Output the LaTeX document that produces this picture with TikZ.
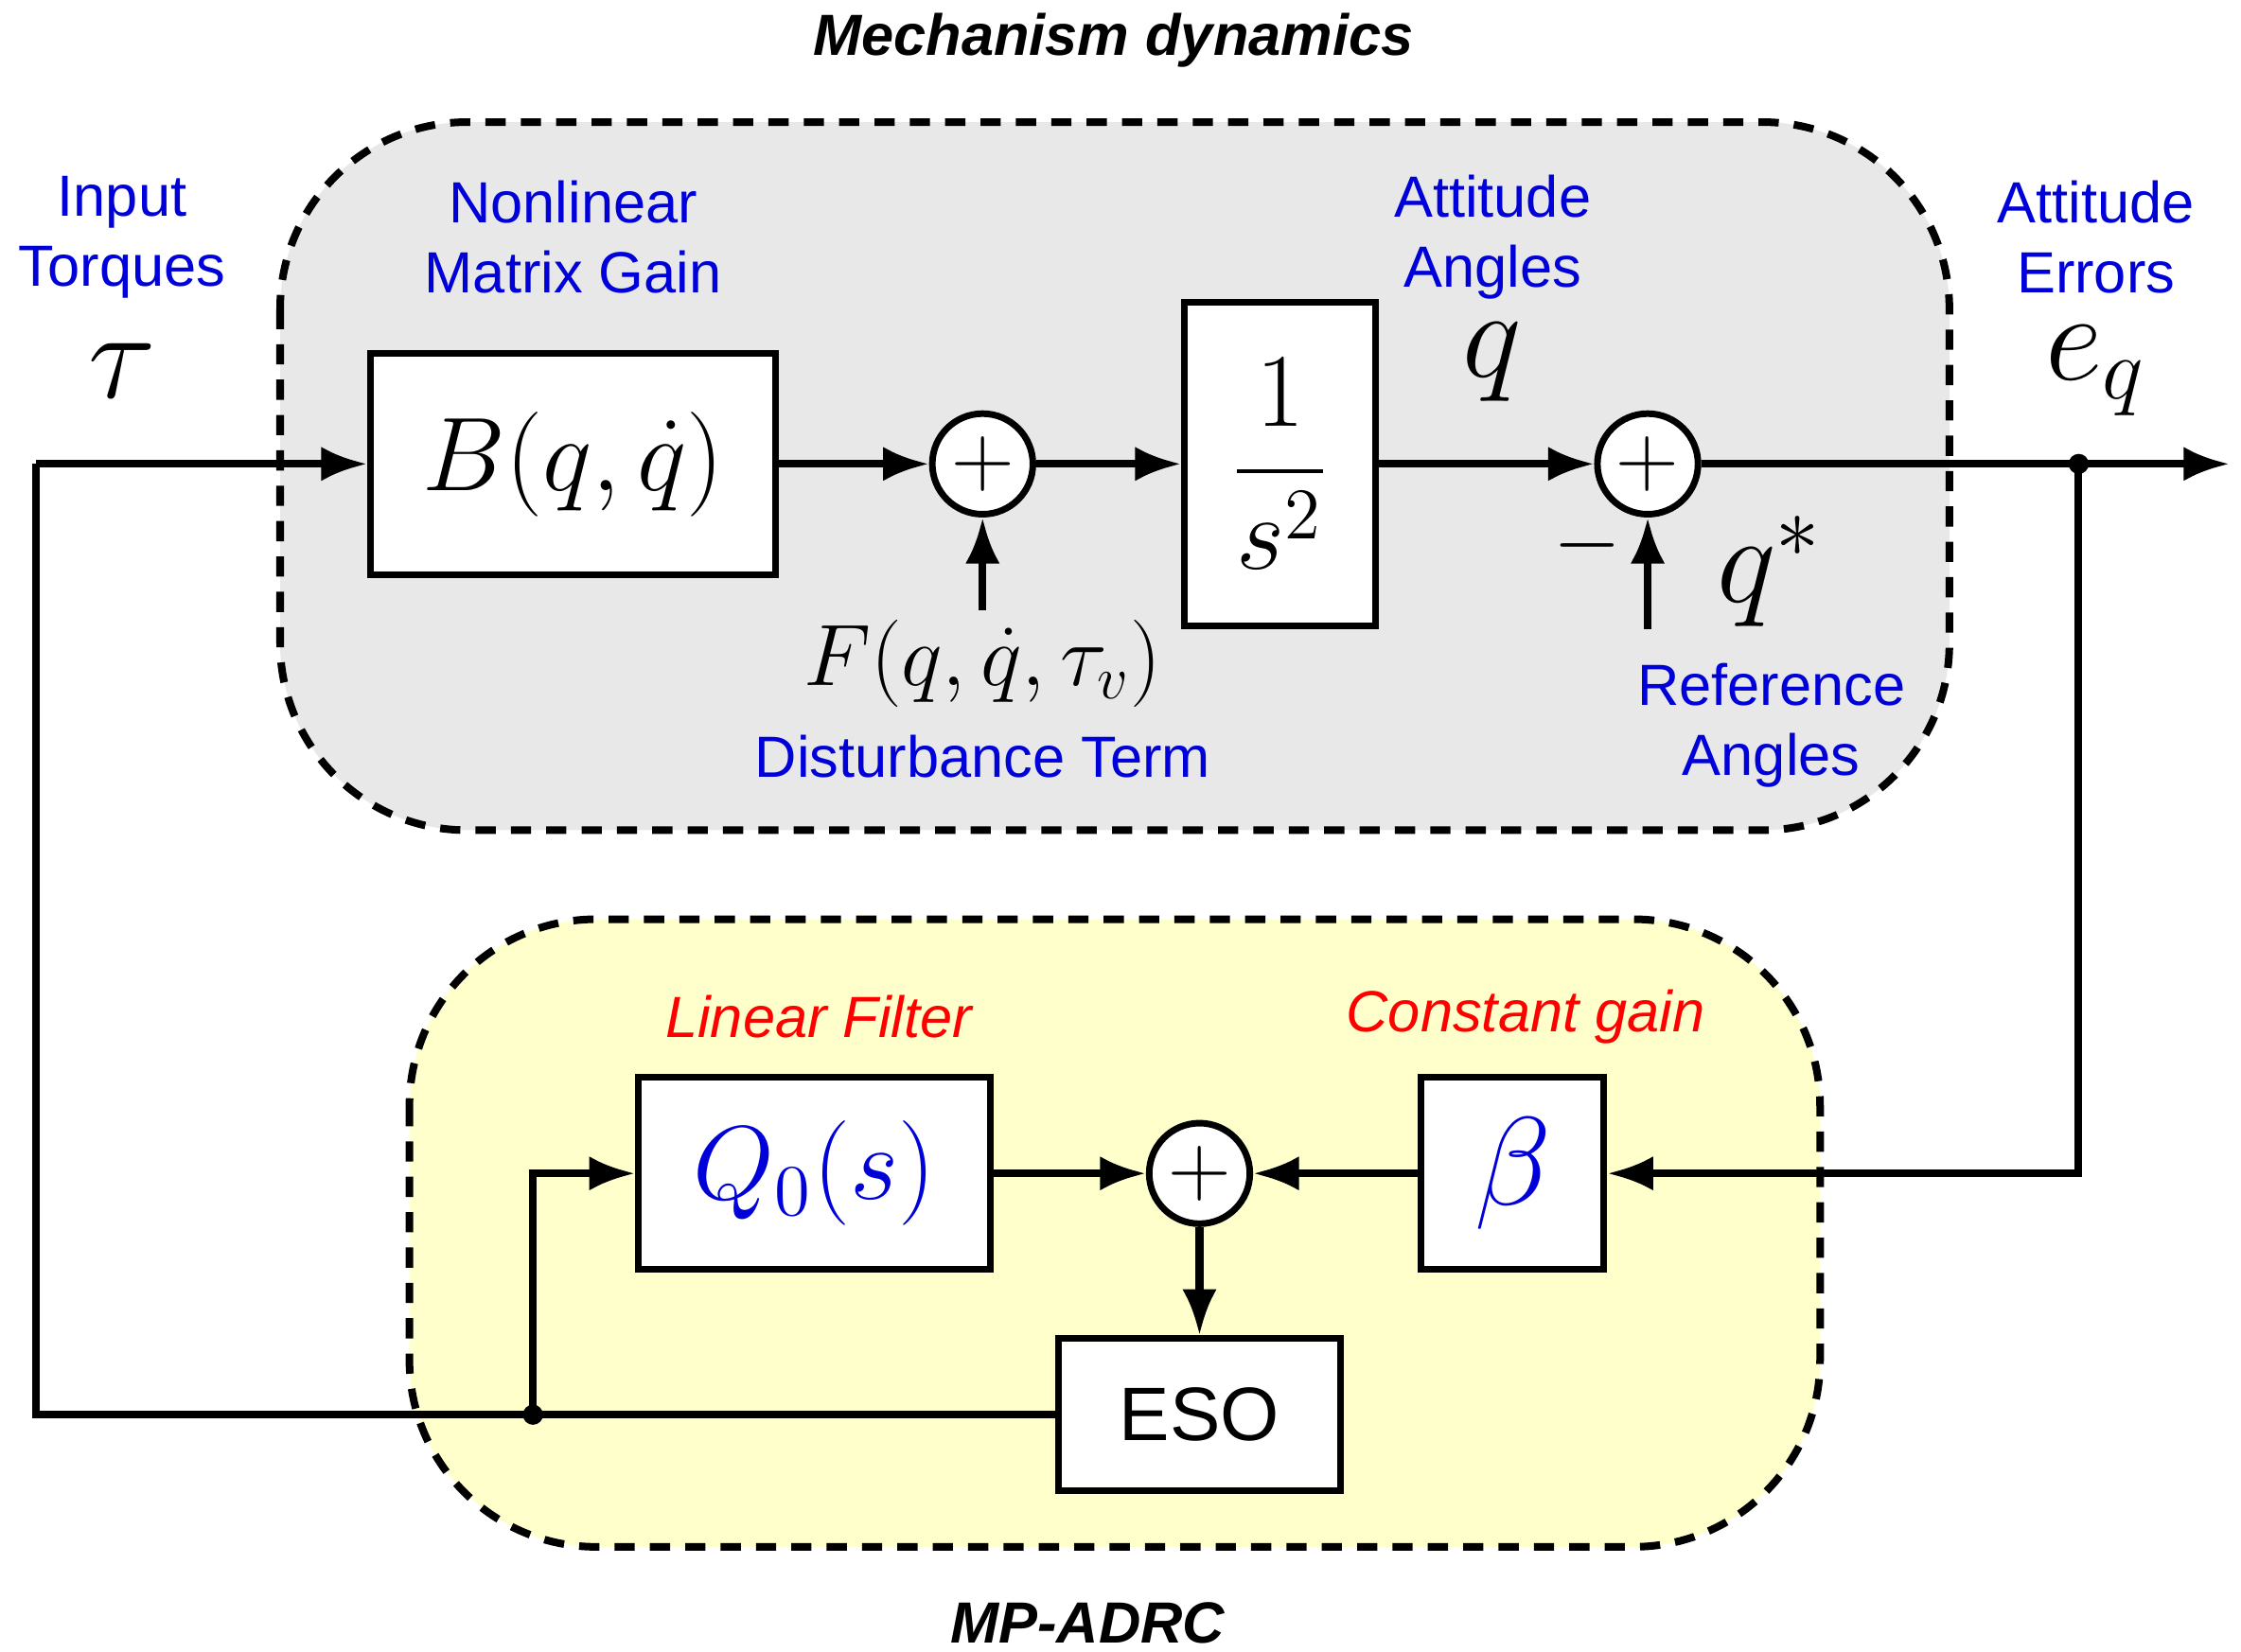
\documentclass[tikz,border=0pt]{standalone}
\usepackage{fontspec}
\setmainfont{Liberation Sans}
\usepackage{amsmath}
\usetikzlibrary{arrows.meta, positioning}
\definecolor{panelgray}{rgb}{0.91, 0.91, 0.91}
\definecolor{panelyellow}{rgb}{1.0, 1.0, 0.80}
\definecolor{labelblue}{rgb}{0.0, 0.0, 0.85}
\tikzstyle{block}=[rectangle, draw=black, line width=1.3pt, fill=white, inner sep=0pt]
\tikzstyle{sum}=[circle, draw=black, line width=1.3pt, fill=white, minimum size=0.7cm, inner sep=0pt, font=\fontsize{16}{16}\selectfont\bfseries]
\tikzstyle{panel}=[rectangle, rounded corners=1.3cm, draw=black, line width=1.5pt, dash pattern=on 4pt off 3pt]
\tikzstyle{note}=[text=labelblue, align=center, font=\fontsize{11.5}{13.8}\selectfont]
\tikzstyle{gain}=[text=red, font=\fontsize{11.5}{13.8}\selectfont\itshape]
\tikzstyle{title}=[font=\fontsize{11.5}{13.8}\selectfont\bfseries\itshape]
\tikzstyle{big}=[font=\fontsize{22}{26}\selectfont]
\tikzstyle{arrow}=[line width=1.5pt, -{Latex[length=3.2mm,width=2.4mm]}]
\tikzstyle{wire}=[line width=1.5pt]
\begin{document}
\begin{tikzpicture}[x=0.01cm, y=-0.01cm]
		\useasboundingbox (0,0) rectangle (1560,1150);
		% panels
		\draw[panel, fill=panelgray] (195,85) rectangle (1357,578);
		\draw[panel, fill=panelyellow] (285,640) rectangle (1267,1077);
		\node[title] at (775,28) {Mechanism dynamics};
		\node[title] at (757,1130) {MP-ADRC};
		% forward path
		\node(gainB)[block, minimum width=2.82cm, minimum height=1.54cm, big] at (399,323) {$B(q,\dot q)$};
		\node(sum1)[sum] at (684,323) {$+$};
		\node(plant)[block, minimum width=1.33cm, minimum height=2.25cm, big] at (891,323) {$\dfrac{1}{s^2}$};
		\node(sum2)[sum] at (1147,323) {$+$};
		\coordinate(start) at (25,323);
		\coordinate(branch) at (1447,323);
		\coordinate(out) at (1552,323);
		\coordinate(dist) at (684,425);
		\coordinate(ref) at (1147,438);
		% controller
		\node(filter)[block, minimum width=2.45cm, minimum height=1.34cm, big, text=labelblue] at (567,817) {$Q_0(s)$};
		\node(sum3)[sum] at (835,817) {$+$};
		\node(beta)[block, minimum width=1.27cm, minimum height=1.34cm, font=\fontsize{28}{30}\selectfont, text=labelblue] at (1053,817) {$\beta$};
		\node(eso)[block, minimum width=1.96cm, minimum height=1.06cm, font=\fontsize{15}{18}\selectfont] at (835,985) {ESO};
		\coordinate(tap) at (371,985);
		\coordinate(corner) at (25,985);
		% labels
		\node[note] at (85,165) {Input\\Torques};
		\node[font=\fontsize{28}{30}\selectfont] at (85,258) {$\tau$};
		\node[note] at (399,165) {Nonlinear\\Matrix Gain};
		\node[note] at (1039,165) {Attitude\\Angles};
		\node[font=\fontsize{26}{30}\selectfont] at (1039,252) {$q$};
		\node[note] at (1459,165) {Attitude\\Errors};
		\node[font=\fontsize{26}{30}\selectfont] at (1459,258) {$e_q$};
		\node[font=\fontsize{17}{20}\selectfont] at (684,462) {$F(q,\dot q,\tau_v)$};
		\node[note] at (684,527) {Disturbance Term};
		\node[font=\fontsize{24}{28}\selectfont] at (1232,398) {$q^*$};
		\node[font=\fontsize{17}{20}\selectfont] at (1105,380) {$-$};
		\node[note] at (1233,505) {Reference\\Angles};
		\node[gain] at (570,708) {Linear Filter};
		\node[gain] at (1062,708) {Constant gain};

		\draw[arrow](start)--(gainB);
		\draw[arrow](gainB)--(sum1);
		\draw[arrow](sum1)--(plant);
		\draw[arrow](plant)--(sum2);
		\draw[arrow](sum2)--(out);
		\draw[arrow](dist)--(sum1);
		\draw[arrow](ref)--(sum2);
		\draw[arrow](branch)|-(beta);
		\draw[arrow](beta)--(sum3);
		\draw[arrow](filter)--(sum3);
		\draw[arrow](sum3)--(eso);
		\draw[wire](eso)--(corner)--(start);
		\draw[arrow](tap)|-(filter);
		\fill(branch) circle (7);
		\fill(tap) circle (7);
	\end{tikzpicture}
\end{document}
